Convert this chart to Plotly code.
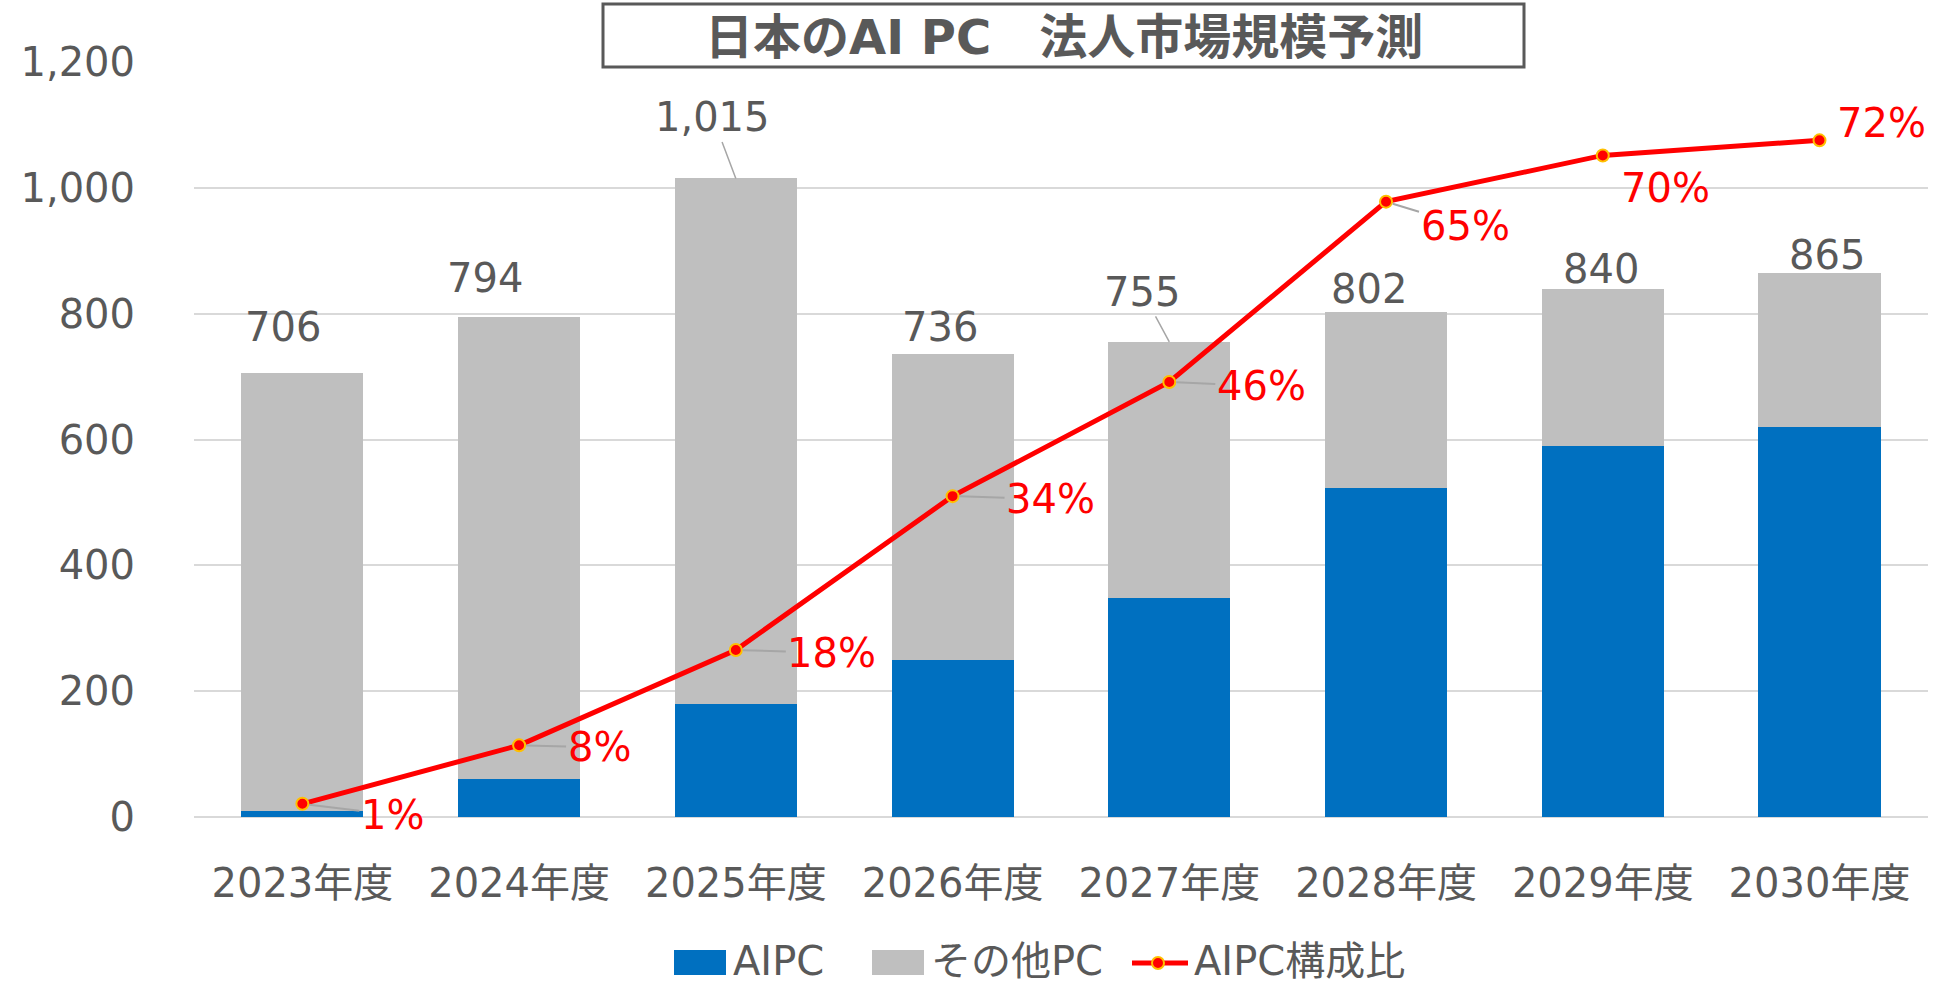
import plotly.graph_objects as go

# ---------------- data ----------------
categories = ["2023年度", "2024年度", "2025年度", "2026年度", "2027年度", "2028年度", "2029年度", "2030年度"]
aipc = [10, 60, 180, 250, 348, 523, 589, 620]
other_pc = [696, 734, 835, 486, 407, 279, 251, 245]
totals = [706, 794, 1015, 736, 755, 802, 840, 865]
aipc_ratio = [0.014, 0.076, 0.177, 0.34, 0.461, 0.652, 0.701, 0.717]
y_ticks = [0, 200, 400, 600, 800, 1000, 1200]

title_text = "日本のAI PC　法人市場規模予測"
legend_names = ["AIPC", "その他PC", "AIPC構成比"]

# ---------------- style ----------------
W, H = 1936, 988
L, R, T, B = 194, 8, 62, 171
FONT = "DejaVu Sans, Noto Sans CJK JP"
GREY_TXT = "#595959"
BLUE = "#0070C0"
GREY_BAR = "#BFBFBF"
RED = "#FF0000"
GOLD = "#FFC000"
FS = 40

# label offsets (px) for total labels: (dx, dy, leader)
total_off = [(-19, 46, False), (-34, 39, False), (-23, 61, True), (-13, 27, False),
             (-27, 50, True), (-17, 23, False), (-2, 20, False), (7, 18, False)]
# label offsets for ratio labels: (dx, dy, leader)
ratio_off = [(90, -11, True), (80, -2, True), (96, -3, True), (98, -3, True),
             (92, -4, True), (79, -24, True), (63, -33, False), (62, 17, False)]

fig = go.Figure()
fig.add_trace(go.Bar(x=categories, y=aipc, name=legend_names[0], marker=dict(color=BLUE, line=dict(width=0)),
                     showlegend=False))
fig.add_trace(go.Bar(x=categories, y=other_pc, name=legend_names[1], marker=dict(color=GREY_BAR, line=dict(width=0)),
                     showlegend=False))
fig.add_trace(go.Scatter(x=categories, y=aipc_ratio, name=legend_names[2], yaxis="y2", mode="lines+markers",
                         line=dict(color=RED, width=5),
                         marker=dict(size=12, color=RED, line=dict(color=GOLD, width=2)),
                         showlegend=False))

ann = []
for c, t, (dx, dy, lead) in zip(categories, totals, total_off):
    if lead:
        ann.append(dict(x=c, y=t, xref="x", yref="y", text=f"{t:,}", showarrow=True, arrowhead=0,
                        arrowwidth=1.5, arrowcolor="#A6A6A6", ax=dx, ay=-dy, standoff=0,
                        xanchor="center", yanchor="middle",
                        font=dict(family=FONT, size=FS, color=GREY_TXT)))
    else:
        ann.append(dict(x=c, y=t, xref="x", yref="y", text=f"{t:,}", showarrow=False,
                        xshift=dx, yshift=dy, xanchor="center", yanchor="middle",
                        font=dict(family=FONT, size=FS, color=GREY_TXT)))

for c, r, (dx, dy, lead) in zip(categories, aipc_ratio, ratio_off):
    txt = f"{round(r * 100)}%"
    if lead:
        ann.append(dict(x=c, y=r, xref="x", yref="y2", text=txt, showarrow=True, arrowhead=0,
                        arrowwidth=2, arrowcolor="#A6A6A6", ax=dx, ay=-dy, standoff=7,
                        xanchor="center", yanchor="middle",
                        font=dict(family=FONT, size=FS, color=RED)))
    else:
        ann.append(dict(x=c, y=r, xref="x", yref="y2", text=txt, showarrow=False,
                        xshift=dx, yshift=dy, xanchor="center", yanchor="middle",
                        font=dict(family=FONT, size=FS, color=RED)))

PW = W - L - R
PH = H - T - B


def px2paper(px, py):
    return (px - L) / PW, (H - B - py) / PH


shapes = []
# title box
x0, y0 = px2paper(603, 67)
x1, y1 = px2paper(1524, 4)
shapes.append(dict(type="rect", xref="paper", yref="paper", x0=x0, y0=y0, x1=x1, y1=y1,
                   line=dict(color=GREY_TXT, width=3), fillcolor="white", layer="above"))
tx, ty = px2paper(1064, 37)
ann.append(dict(x=tx, y=ty, xref="paper", yref="paper", text=f"<b>{title_text}</b>", showarrow=False,
                xanchor="center", yanchor="middle", font=dict(family=FONT, size=48, color=GREY_TXT)))

# custom legend
LEG_Y = 963
for (lx0, lx1), col in [((674, 726), BLUE), ((872, 924), GREY_BAR)]:
    a0, b0 = px2paper(lx0, LEG_Y + 12)
    a1, b1 = px2paper(lx1, LEG_Y - 13)
    shapes.append(dict(type="rect", xref="paper", yref="paper", x0=a0, y0=b0, x1=a1, y1=b1,
                       line=dict(width=0), fillcolor=col, layer="above"))
a0, b0 = px2paper(1132, LEG_Y)
a1, _ = px2paper(1188, LEG_Y)
shapes.append(dict(type="line", xref="paper", yref="paper", x0=a0, y0=b0, x1=a1, y1=b0,
                   line=dict(color=RED, width=5), layer="above"))
c0, d0 = px2paper(1152, LEG_Y + 6)
c1, d1 = px2paper(1164, LEG_Y - 6)
shapes.append(dict(type="circle", xref="paper", yref="paper", x0=c0, y0=d0, x1=c1, y1=d1,
                   line=dict(color=GOLD, width=2), fillcolor=RED, layer="above"))
for name, lx in zip(legend_names, [731, 929, 1192]):
    a, b = px2paper(lx, LEG_Y - 2)
    ann.append(dict(x=a, y=b, xref="paper", yref="paper", text=name, showarrow=False,
                    xanchor="left", yanchor="middle", font=dict(family=FONT, size=FS, color=GREY_TXT)))

fig.update_layout(
    width=W, height=H,
    margin=dict(l=L, r=R, t=T, b=B, autoexpand=False),
    paper_bgcolor="white", plot_bgcolor="white",
    barmode="stack", bargap=0.437,
    font=dict(family=FONT, size=FS, color=GREY_TXT),
    xaxis=dict(type="category", showgrid=False, zeroline=False, showline=False, ticks="",
               tickfont=dict(family=FONT, size=FS, color=GREY_TXT), ticklabelstandoff=39),
    yaxis=dict(range=[0, 1200], tickvals=y_ticks, tickformat=",", showgrid=True, gridcolor="#D9D9D9",
               gridwidth=2, zeroline=True, zerolinecolor="#D9D9D9", zerolinewidth=2, showline=False,
               ticks="", tickfont=dict(family=FONT, size=FS, color=GREY_TXT), ticklabelstandoff=58),
    yaxis2=dict(range=[0, 0.8], overlaying="y", side="right", visible=False),
    annotations=ann,
    shapes=shapes,
    showlegend=False,
)

fig.write_html("out.html", config={"displayModeBar": False},
               post_script="document.body.style.margin='0';document.body.style.overflow='hidden';")
